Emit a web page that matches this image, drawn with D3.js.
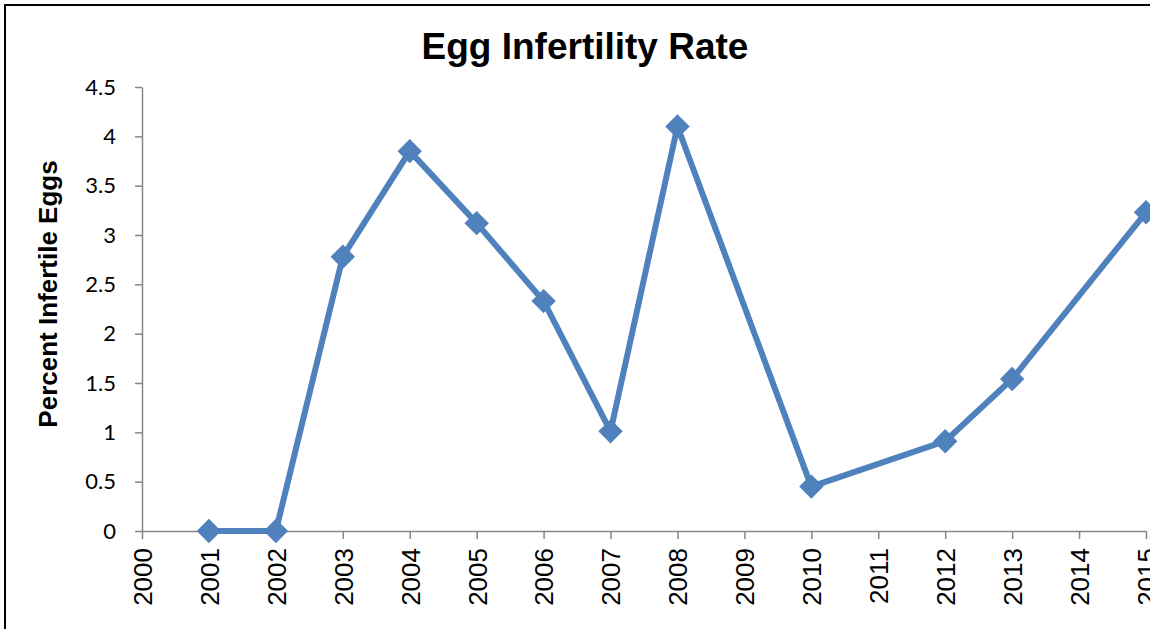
<!DOCTYPE html>
<html>
<head>
<meta charset="utf-8">
<script src="https://cdn.jsdelivr.net/npm/d3@7"></script>
<style>
  body { margin: 0; background: #fff; }
  svg { display: block; }
</style>
</head>
<body>
<div id="chart"></div>
<script>
// data (2009, 2011, 2014 have no value)
var years = [2001, 2002, 2003, 2004, 2005, 2006, 2007, 2008, 2010, 2012, 2013, 2015];
var rates = [0, 0, 2.78, 3.85, 3.12, 2.33, 1.01, 4.1, 0.45, 0.91, 1.54, 3.23];
var yearTicks = d3.range(2000, 2016);
var rateTicks = [0, 0.5, 1, 1.5, 2, 2.5, 3, 3.5, 4, 4.5];

var width = 1150,
    height = 629;

var svg = d3.select("#chart").append("svg")
    .attr("width", width)
    .attr("height", height);

// chart area border (runs off the right and bottom edge)
svg.append("rect")
    .attr("x", 5)
    .attr("y", 5)
    .attr("width", width + 10)
    .attr("height", height + 10)
    .attr("fill", "none")
    .attr("stroke", "#000")
    .attr("stroke-width", 2);

var x = d3.scaleLinear().domain([2000, 2015]).range([142, 1146]);
var y = d3.scaleLinear().domain([0, 4.5]).range([531, 87]);

var axisColor = "#868686";

// y axis
var yAxis = svg.append("g")
    .attr("transform", "translate(" + x(2000) + ",0)")
    .call(d3.axisLeft(y).tickValues(rateTicks).tickSize(7).tickSizeOuter(0).tickPadding(19)
        .tickFormat(d3.format("")));
yAxis.select(".domain").attr("stroke", axisColor).attr("stroke-width", 1.5);
yAxis.selectAll(".tick line").attr("stroke", axisColor).attr("stroke-width", 1.5);
yAxis.selectAll(".tick text")
    .attr("fill", "#000")
    .style("font-family", "Lato, 'Open Sans', sans-serif")
    .style("font-size", "22px");

// x axis
var xAxis = svg.append("g")
    .attr("transform", "translate(0," + y(0) + ")")
    .call(d3.axisBottom(x).tickValues(yearTicks).tickSize(8).tickSizeOuter(0)
        .tickFormat(d3.format("d")));
xAxis.select(".domain").attr("stroke", axisColor).attr("stroke-width", 1.5);
xAxis.selectAll(".tick line").attr("stroke", axisColor).attr("stroke-width", 1.5);
xAxis.selectAll(".tick text")
    .attr("fill", "#000")
    .attr("transform", "rotate(-90)")
    .attr("x", -17)
    .attr("y", 0)
    .attr("dy", "0.36em")
    .attr("text-anchor", "end")
    .style("font-family", "'Liberation Sans', Arial, sans-serif")
    .style("font-size", "26px");

// line + diamond markers
var pts = years.map(function(d, i) { return [d, rates[i]]; });

svg.append("path")
    .datum(pts)
    .attr("fill", "none")
    .attr("stroke", "#4F81BD")
    .attr("stroke-width", 6)
    .attr("stroke-linejoin", "round")
    .attr("d", d3.line()
        .x(function(d) { return x(d[0]); })
        .y(function(d) { return y(d[1]); }));

var diamond = d3.symbol().type(d3.symbolDiamond2).size(380);

svg.selectAll(".marker")
    .data(pts)
    .enter()
    .append("path")
    .attr("class", "marker")
    .attr("transform", function(d) { return "translate(" + x(d[0]) + "," + y(d[1]) + ")"; })
    .attr("d", diamond)
    .attr("fill", "#4F81BD");

// titles
svg.append("text")
    .attr("x", 585)
    .attr("y", 59)
    .attr("text-anchor", "middle")
    .style("font-family", "'Liberation Sans', Arial, sans-serif")
    .style("font-weight", "bold")
    .style("font-size", "37px")
    .text("Egg Infertility Rate");

svg.append("text")
    .attr("transform", "translate(57,294) rotate(-90)")
    .attr("text-anchor", "middle")
    .style("font-family", "'Liberation Sans', Arial, sans-serif")
    .style("font-weight", "bold")
    .style("font-size", "26px")
    .text("Percent Infertile Eggs");
</script>
</body>
</html>
